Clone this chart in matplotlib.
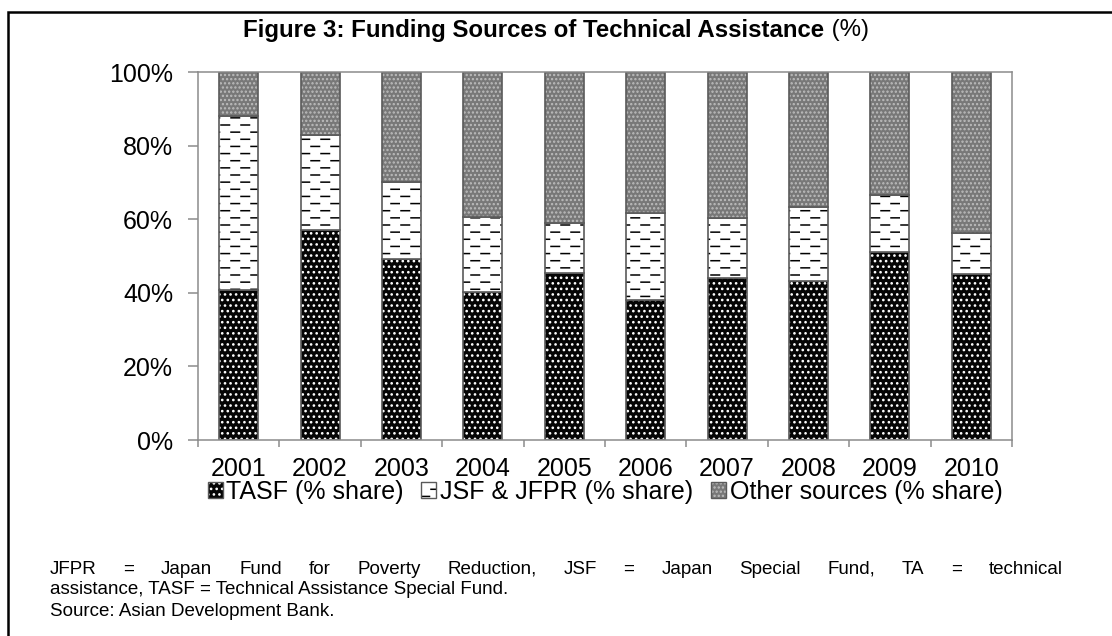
import numpy as np
import matplotlib
matplotlib.use('Agg')
import matplotlib.pyplot as plt
import matplotlib.hatch as mhatch
from matplotlib.path import Path
from matplotlib.patches import Patch, Rectangle

plt.rcParams['font.family'] = ['Liberation Sans', 'DejaVu Sans']
plt.rcParams['hatch.linewidth'] = 1.1

years = ['2001', '2002', '2003', '2004', '2005', '2006', '2007', '2008', '2009', '2010']
tasf = [40.8, 57.2, 49.1, 40.3, 45.3, 38.0, 43.9, 43.2, 51.2, 45.0]
jsf = [47.2, 25.6, 21.1, 20.4, 13.6, 23.6, 16.3, 20.0, 15.4, 11.2]
other = [12.0, 17.2, 29.8, 39.3, 41.1, 38.4, 39.8, 36.8, 33.4, 43.8]
labels = ['TASF (% share)', 'JSF & JFPR (% share)', 'Other sources (% share)']

title_bold = 'Figure 3: Funding Sources of Technical Assistance'
title_rest = ' (%)'
note1 = 'JFPR = Japan Fund for Poverty Reduction, JSF = Japan Special Fund, TA = technical'
note2 = 'assistance, TASF = Technical Assistance Special Fund.'
note3 = 'Source: Asian Development Bank.'


# short staggered dashes instead of the plain '-' lines (Excel "dashed horizontal" fill)
class DashHatch(mhatch.HatchPatternBase):
    def __init__(self, hatch, density):
        self.rows = 14 if hatch.count('-') else 0
        self.cols = 5
        self.num_vertices = self.rows * self.cols * 2

    def set_vertices_and_codes(self, vertices, codes):
        k = 0
        for r in range(self.rows):
            y = (r + 0.5) / self.rows
            shift = 0.5 / self.cols if r % 2 else 0.0
            for c in range(self.cols):
                x0 = c / self.cols + shift + 0.01
                vertices[k] = (x0, y)
                vertices[k + 1] = (x0 + 0.085, y)
                codes[k] = Path.MOVETO
                codes[k + 1] = Path.LINETO
                k += 2


mhatch._hatch_types[0] = DashHatch

W, H = 1112, 636
fig = plt.figure(figsize=(W / 100, H / 100), dpi=100)
ax = fig.add_axes([198 / W, 1 - 440 / H, (1012 - 198) / W, 368 / H])

x = np.arange(len(years))
w = 0.48
series = [tasf, jsf, other]
# facecolor, hatch colour, hatch
styles = [('#050505', 'white', '...'),
          ('white', '#000000', '-'),
          ('#787878', '#bdbdbd', '....')]
edge = '#5a5a5a'

bottom = np.zeros(len(years))
for vals, (fc, hc, h) in zip(series, styles):
    ax.bar(x, vals, w, bottom=bottom, color=fc, edgecolor=hc, hatch=h, lw=0)
    ax.bar(x, vals, w, bottom=bottom, fill=False, edgecolor=edge, lw=1.2)
    bottom += np.array(vals)

gray = '#8c8c8c'
for s in ax.spines.values():
    s.set_color(gray)
    s.set_linewidth(1.1)

ax.set_xlim(-0.5, len(years) - 0.5)
ax.set_ylim(0, 100)
ax.set_yticks(np.arange(0, 101, 20))
ax.set_yticklabels([f'{v}%' for v in range(0, 101, 20)])
ax.tick_params(axis='y', direction='out', length=7, width=1.1, color=gray,
               pad=11, labelsize=18)
ax.set_xticks(x)
ax.set_xticklabels(years)
ax.set_xticks(np.arange(-0.5, len(years), 1), minor=True)
ax.tick_params(axis='x', which='major', length=0, pad=12, labelsize=18)
ax.tick_params(axis='x', which='minor', direction='out', length=5, width=1.1, color=gray)

handles = [(Patch(facecolor=fc, edgecolor=hc, hatch=h, lw=0),
            Patch(fill=False, edgecolor=edge, lw=1.0)) for fc, hc, h in styles]
fig.legend(handles, labels, loc='center', bbox_to_anchor=(605 / W, 1 - 492 / H),
           ncol=3, frameon=False, fontsize=18, handlelength=0.6, handleheight=0.6,
           handletextpad=0.15, columnspacing=0.7, borderpad=0)

r = fig.canvas.get_renderer()


def width_of(t):
    return t.get_window_extent(r).width / W


# title: bold part + regular part, centred together
t1 = fig.text(0, 1 - 30 / H, title_bold, fontsize=17.3, fontweight='bold', va='center')
t2 = fig.text(0, 1 - 30 / H, title_rest, fontsize=17.3, va='center')
w1, w2 = width_of(t1), width_of(t2)
t1.set_x(556 / W - (w1 + w2) / 2)
t2.set_x(556 / W - (w1 + w2) / 2 + w1)

# justified first line of the note
fs = 13.5
words = note1.split()
wts = [fig.text(0, 1 - 569 / H, s, fontsize=fs, va='center') for s in words]
ws = [width_of(t) for t in wts]
x0, x1 = 50 / W, 1063 / W
gap = (x1 - x0 - sum(ws)) / (len(words) - 1)
for t, wd in zip(wts, ws):
    t.set_x(x0)
    x0 += wd + gap
fig.text(50 / W, 1 - 590 / H, note2, fontsize=fs, va='center')
fig.text(50 / W, 1 - 611 / H, note3, fontsize=fs, va='center')

# frame round the whole figure (runs off the right and bottom edges)
fig.patches.append(Rectangle((8 / W, -0.1), 1.2, 1.1 - 12 / H, transform=fig.transFigure,
                             fill=False, edgecolor='black', lw=1.8))

fig.savefig('out.png', dpi=100)
